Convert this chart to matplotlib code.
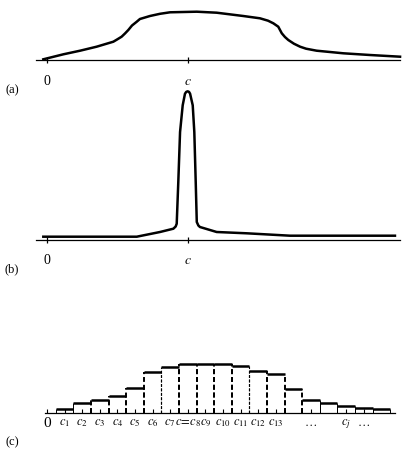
"""Three panels: smooth density (a), peaked density (b), step histogram (c)."""
import matplotlib
matplotlib.use("Agg")
import matplotlib.pyplot as plt

plt.rcParams['font.family'] = 'serif'
plt.rcParams['font.serif'] = ['Liberation Serif', 'DejaVu Serif']
plt.rcParams['mathtext.fontset'] = 'stix'

# ---- data (x in units of histogram bin width, 0 at origin, c = 8) ----
c_pos = 8

a_x = [-0.21, 0.93, 1.88, 2.82, 3.77, 3.98, 4.24, 4.43, 4.62, 4.83, 5.10,
       5.28, 5.85, 6.42, 6.99, 8.51, 9.64, 11.15, 12.10, 12.56, 12.86, 13.14,
       13.34, 13.52, 13.71, 14.03, 14.38, 14.72, 15.32, 16.84, 18.35, 20.06]
a_y = [0.7, 5.7, 9.3, 13.3, 18.3, 20.5, 23.3, 26.5, 30.0, 34.5, 38.3,
       41.0, 44.0, 46.2, 47.7, 48.3, 47.3, 44.0, 41.7, 39.3, 36.7, 33.3,
       26.7, 23.0, 20.0, 16.3, 13.3, 11.3, 9.3, 6.7, 5.0, 3.3]

b_x = [-0.21, 5.10, 6.42, 7.18, 7.31, 7.37, 7.46, 7.56, 7.71, 7.84, 7.91,
       7.99, 8.07, 8.13, 8.28, 8.37, 8.45, 8.51, 8.60, 8.69, 9.64, 11.35,
       13.81, 19.77]
b_y = [2.8, 2.8, 7.5, 10.8, 13.0, 15.8, 57.5, 107.5, 134.2, 145.8, 147.6,
       148.2, 147.6, 145.8, 134.2, 107.5, 57.5, 17.5, 14.0, 12.5, 7.5, 6.2,
       3.8, 3.8]

bins = list(range(1, 20))
bin_h = [3.7, 9.4, 12.7, 17.0, 25.0, 41.0, 46.0, 48.4, 48.4, 48.4, 46.7,
         42.0, 38.7, 23.4, 12.7, 9.4, 7.0, 5.0, 4.0]
c_ticks = [0, 1, 2, 3, 4, 5, 6, 7, 8, 9, 10, 11, 12, 13, 15, 17, 18]
c_labels = ['0', '$c_1$', '$c_2$', '$c_3$', '$c_4$', '$c_5$', '$c_6$',
            '$c_7$', '$c\\!=\\!c_8$', '$c_9$', '$c_{10}$', '$c_{11}$',
            '$c_{12}$', '$c_{13}$', '$\\ldots$', '$c_j$', '$\\ldots$']

# ---- layout helpers (pixels) ----
W, H = 405, 450
X0, UNIT = 47.0, 17.6

fig = plt.figure(figsize=(W / 100, H / 100), dpi=100)


def make_ax(left, right, base, height):
    ax = fig.add_axes([left / W, 1 - base / H, (right - left) / W, height / H])
    ax.set_xlim((left - X0) / UNIT, (right - X0) / UNIT)
    ax.set_ylim(0, height)
    for s in ['top', 'left', 'right']:
        ax.spines[s].set_visible(False)
    ax.spines['bottom'].set_linewidth(0.9)
    ax.set_yticks([])
    ax.patch.set_alpha(0)
    return ax


# (a)
ax1 = make_ax(36, 400, 60, 55)
ax1.plot(a_x, a_y, color='black', lw=1.8, solid_joinstyle='round', clip_on=False)
ax1.set_xticks([0, c_pos], ['0', '$c$'])
ax1.tick_params(axis='x', direction='inout', length=5, width=0.9,
                labelsize=10, pad=8)
fig.text(12 / W, 1 - 90 / H, '(a)', fontsize=9, ha='center', va='center')

# (b)
ax2 = make_ax(36, 400, 239.5, 150)
ax2.plot(b_x, b_y, color='black', lw=1.8, solid_joinstyle='round', clip_on=False)
ax2.set_xticks([0, c_pos], ['0', '$c$'])
ax2.tick_params(axis='x', direction='inout', length=5, width=0.9,
                labelsize=10, pad=8)
fig.text(12 / W, 1 - 269 / H, '(b)', fontsize=9, ha='center', va='center')

# (c)
ax3 = make_ax(45, 395, 412.7, 52)
ax3.bar(bins, bin_h, width=1.0, color='white', edgecolor='none')
for i, (x, h) in enumerate(zip(bins, bin_h)):
    ax3.hlines(h, x - 0.5, x + 0.5, color='black', lw=1.8)
    for k, xe in ((i, x - 0.5), (i + 1, x + 0.5)):
        if 2 <= k <= 14:
            ax3.vlines(xe, 0, h, color='black', lw=1.4 if k not in (6, 11) else 0.8,
                       linestyles=(0, (2.5, 1.5)))
        else:
            ax3.vlines(xe, 0, h, color='black', lw=0.7)
ax3.set_xticks(c_ticks, c_labels)
ax3.tick_params(axis='x', direction='in', length=3, width=0.8,
                labelsize=9, pad=3)
ax3.get_xticklabels()[0].set_fontsize(11)
fig.text(12 / W, 1 - 442 / H, '(c)', fontsize=9, ha='center', va='center')

fig.savefig('out.png', dpi=100)
